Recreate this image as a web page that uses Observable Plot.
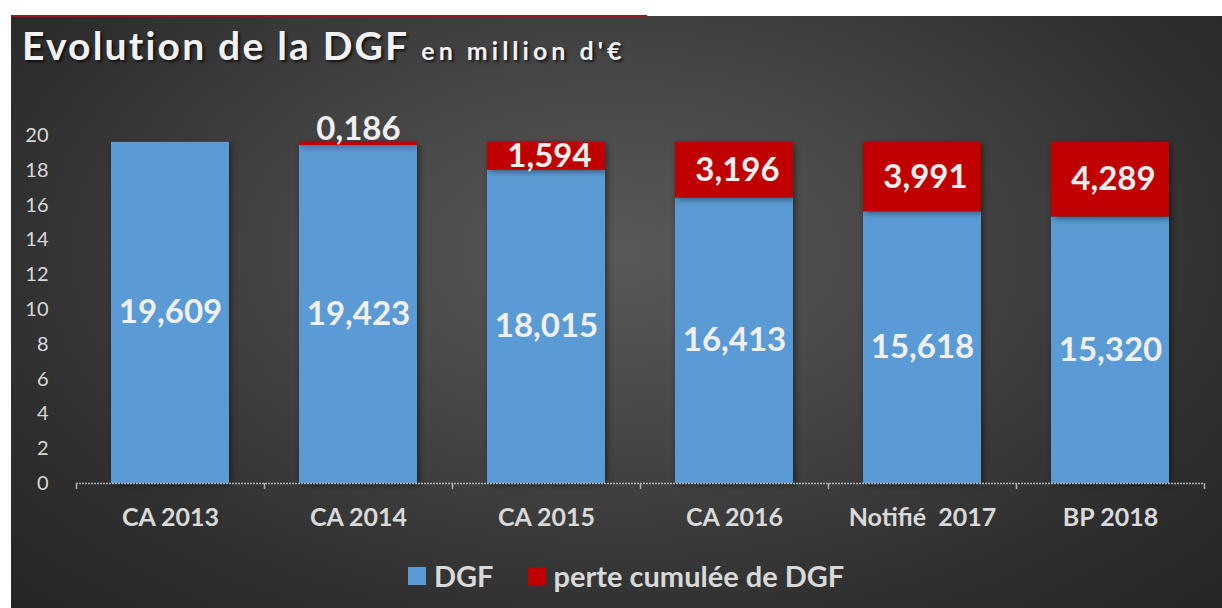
<!DOCTYPE html>
<html>
<head>
<meta charset="utf-8">
<script src="https://cdn.jsdelivr.net/npm/d3@7"></script>
<script src="https://cdn.jsdelivr.net/npm/@observablehq/plot@0.6"></script>
<style>
  html, body { margin: 0; padding: 0; background: #ffffff; }
  body { width: 1222px; height: 608px; position: relative; overflow: hidden; font-family: Lato, "Open Sans", sans-serif; }
  #panel { position: absolute; left: 11px; top: 16px; width: 1211px; height: 592px;
    background: radial-gradient(ellipse 70% 85% at 50% 40%, #595959 0%, #474747 35%, #2f2f2f 75%, #262626 100%); }
  #redline { position: absolute; left: 11px; top: 15px; width: 636px; height: 2px; background: #8e1c1c; }
  #title { position: absolute; left: 22px; top: 22px; color: #f2f2f2; font-weight: 700; white-space: nowrap;
    text-shadow: 2px 2px 3px rgba(0,0,0,0.7); }
  #title .main { font-size: 39px; letter-spacing: 2.2px; }
  #title .sub { font-size: 25px; letter-spacing: 4px; margin-left: 12px; }
  #chart { position: absolute; left: 11px; top: 100px; }
  #legend { position: absolute; left: 408px; top: 558px; display: flex; align-items: center; color: #d9d9d9;
    font-weight: 700; font-size: 29px; white-space: nowrap; }
  #legend .sw { width: 18px; height: 18px; display: inline-block; margin-right: 8px; }
  #legend .item { display: flex; align-items: center; margin-right: 34px; }
  #chart svg g[aria-label="bar"] rect { filter: drop-shadow(2px 2px 3px rgba(0,0,0,0.45)); }
</style>
</head>
<body>
<div id="panel"></div>
<div id="redline"></div>
<div id="title"><span class="main">Evolution de la DGF</span><span class="sub">en million d'€</span></div>
<div id="chart"></div>
<div id="legend"></div>
<script>
const categories = ["CA 2013", "CA 2014", "CA 2015", "CA 2016", "Notifié  2017", "BP 2018"];
const dgf = [19.609, 19.423, 18.015, 16.413, 15.618, 15.320];
const perte = [0, 0.186, 1.594, 3.196, 3.991, 4.289];
const dgfLabels = ["19,609", "19,423", "18,015", "16,413", "15,618", "15,320"];
const perteLabels = ["", "0,186", "1,594", "3,196", "3,991", "4,289"];
const seriesNames = ["DGF", "perte cumulée de DGF"];
const seriesColors = ["#5B9BD5", "#C00000"];
const yTicks = [0, 2, 4, 6, 8, 10, 12, 14, 16, 18, 20];

const rows = [];
categories.forEach((c, i) => {
  rows.push({cat: c, series: seriesNames[0], value: dgf[i]});
  rows.push({cat: c, series: seriesNames[1], value: perte[i]});
});
const blueLabels = categories.map((c, i) => ({cat: c, y: dgf[i] / 2, label: dgfLabels[i]}));
const redLabels = categories.map((c, i) => ({cat: c, y: dgf[i] + perte[i] / 2, v: perte[i], label: perteLabels[i]}))
  .filter(d => d.v > 0);
const redBig = redLabels.filter(d => d.v >= 1);
const redSmall = redLabels.filter(d => d.v < 1);

const txt = "#d9d9d9";
const lbl = "#f0f0f0";

const plot = Plot.plot({
  width: 1211,
  height: 440,
  marginTop: 35,
  marginBottom: 57,
  marginLeft: 65,
  marginRight: 18,
  style: {background: "transparent", fontFamily: "Lato, 'Open Sans', sans-serif", overflow: "visible"},
  x: {domain: categories, paddingInner: 0.372, paddingOuter: 0.186, label: null},
  y: {domain: [0, 20], label: null},
  color: {domain: seriesNames, range: seriesColors},
  marks: [
    Plot.axisY({ticks: yTicks, tickSize: 0, tickPadding: 28, fontSize: 20, fill: txt, label: null}),
    Plot.axisX({tickSize: 0, tickPadding: 25, fontSize: 25, fontWeight: "bold", fill: txt, label: null}),
    Plot.barY(rows, {x: "cat", y: "value", fill: "series", order: seriesNames}),
    Plot.ruleY([0], {stroke: "#b0b0b0", strokeWidth: 1.5, strokeDasharray: "2 1"}),
    Plot.ruleX(categories, {x: d => d, y1: 0, y2: 0, insetBottom: -6, dx: -94, stroke: "#b0b0b0", strokeWidth: 1.5}),
    Plot.ruleX(categories.slice(-1), {x: d => d, y1: 0, y2: 0, insetBottom: -6, dx: 94, stroke: "#b0b0b0", strokeWidth: 1.5}),
    Plot.text(blueLabels, {x: "cat", y: "y", text: "label", fill: lbl, fontSize: 33, fontWeight: "bold"}),
    Plot.text(redBig, {x: "cat", y: "y", text: "label", fill: lbl, fontSize: 33, fontWeight: "bold", dx: 3}),
    Plot.text(redSmall, {x: "cat", y: "y", text: "label", fill: lbl, fontSize: 33, fontWeight: "bold", dy: -14})
  ]
});
document.getElementById("chart").appendChild(plot);

const legend = document.getElementById("legend");
seriesNames.forEach((s, i) => {
  const item = document.createElement("div");
  item.className = "item";
  const sw = document.createElement("span");
  sw.className = "sw";
  sw.style.background = seriesColors[i];
  const t = document.createElement("span");
  t.textContent = s;
  item.appendChild(sw);
  item.appendChild(t);
  legend.appendChild(item);
});
</script>
</body>
</html>
